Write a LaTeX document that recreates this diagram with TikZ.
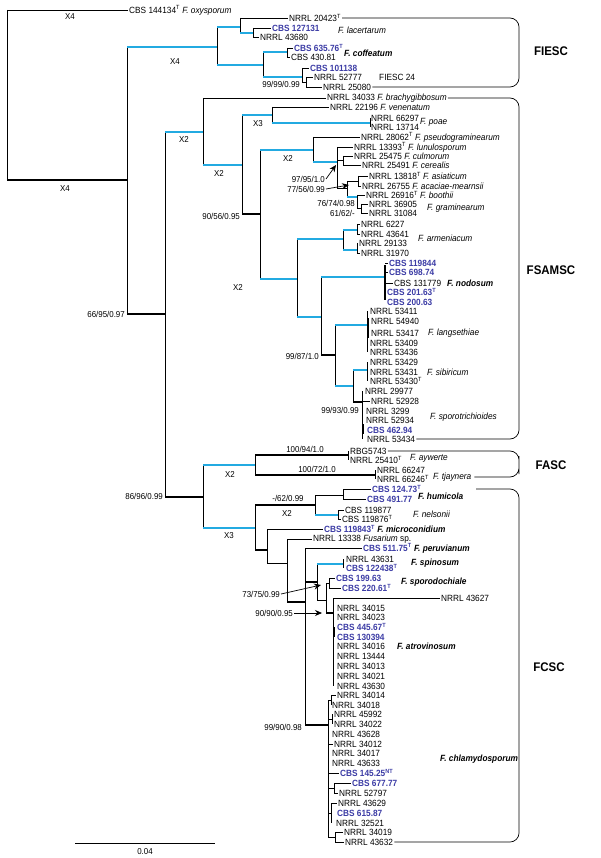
\documentclass[tikz,border=0pt]{standalone}
\usepackage{fontspec}
\setmainfont{Liberation Sans}[FakeStretch=0.92]
\usetikzlibrary{arrows.meta, calc}
\definecolor{branchblue}{RGB}{35,170,225}
\definecolor{cbsblue}{RGB}{60,60,165}
\newcommand{\tipfont}{\fontsize{9}{9.5}\selectfont}
\newcommand{\cb}[1]{\textcolor{cbsblue}{\bfseries #1}}

\begin{document}
\begin{tikzpicture}[x=1pt,y=-1pt,
  br/.style={line width=0.7pt},
  tk/.style={line width=1.7pt},
  bl/.style={line width=1.7pt, draw=branchblue},
  tip/.style={anchor=west, inner xsep=1pt, inner ysep=0pt, font=\tipfont},
  cbs/.style={tip, text=cbsblue, font=\tipfont\bfseries},
  sp/.style={anchor=west, inner sep=0pt, font=\tipfont\itshape},
  spb/.style={sp, font=\tipfont\bfseries\itshape},
  supp/.style={anchor=east, inner sep=1pt, font=\fontsize{8.6}{9}\selectfont},
  xl/.style={inner sep=0pt, font=\fontsize{8.6}{9}\selectfont},
  clade/.style={inner sep=0pt, font=\fontsize{12.5}{13}\selectfont\bfseries},
  arr/.style={br, -{Stealth[length=7pt,width=6pt]}},
  brk/.style={br, rounded corners=9pt}]
\useasboundingbox (0,0) rectangle (601,858);

% root and backbone
\node[tip] (oxy) at (128,10) {CBS 144134\textsuperscript{T} \textit{F. oxysporum}};
\draw[br] (7,10) -- (7,180);
\draw[br] (7,10) -- (oxy.west);
\node[xl] at (70,17) {X4};
\draw[tk] (7,180) -- (127,180);
\node[xl] at (65,189) {X4};
\draw[br] (127,47) -- (127,314);
\draw[bl] (127,47) -- (217,47);
\node[xl] at (175,62) {X4};
\draw[tk] (127,314) -- (165,314);
\node[supp] at (126,314) {66/95/0.97};
\draw[br] (165,132) -- (165,497);
\draw[bl] (165,132) -- (203,132);
\node[xl] at (184,140) {X2};
\draw[tk] (165,497) -- (203,497);
\node[supp] at (164,496) {86/96/0.99};

% FIESC
\node[tip] (n20423) at (288,18) {NRRL 20423\textsuperscript{T}};
\node[cbs] (c127131) at (271,28) {CBS 127131};
\node[tip] (n43680) at (259,37) {NRRL 43680};
\node[cbs] (c63576) at (293,48) {CBS 635.76\textsuperscript{T}};
\node[tip] (c43081) at (290,57) {CBS 430.81};
\node[cbs] (c101138) at (309,68) {CBS 101138};
\node[tip] (n52777) at (313,77) {NRRL 52777};
\node[tip] (n25080) at (322,87) {NRRL 25080};
\draw[br] (217,27) -- (217,65);
\draw[bl] (217,27) -- (240,27);
\draw[bl] (217,65) -- (263,65);
\draw[br] (240,18) -- (240,33);
\draw[br] (240,18) -- (n20423.west);
\draw[bl] (240,33) -- (253,33);
\draw[br] (253,28) -- (253,37);
\draw[br] (253,28) -- (c127131.west);
\draw[br] (253,37) -- (n43680.west);
\draw[br] (263,52) -- (263,77);
\draw[bl] (263,52) -- (287,52);
\draw[br] (287,48) -- (287,57);
\draw[br] (287,48) -- (c63576.west);
\draw[br] (287,57) -- (c43081.west);
\draw[bl] (263,77) -- (302,77);
\draw[br] (302,68) -- (302,82);
\draw[br] (302,68) -- (c101138.west);
\draw[br] (302,82) -- (306,82);
\draw[br] (306,77) -- (306,87);
\draw[br] (306,77) -- (n52777.west);
\draw[br] (306,87) -- (n25080.west);
\node[sp] at (338,30) {F. lacertarum};
\node[spb] at (344,53) {F. coffeatum};
\node[anchor=west, inner sep=0pt, font=\tipfont] at (379,77) {FIESC 24};
\node[supp] at (301,84) {99/99/0.99};
\draw[brk] (n20423.east) -| (519,50) |- (n25080.east);
\node[clade] at (551,51) {FIESC};

% FSAMSC
\node[tip] (n34033) at (326,98) {NRRL 34033 \textit{F. brachygibbosum}};
\node[tip] (n22196) at (329,107) {NRRL 22196 \textit{F. venenatum}};
\node[tip] (n66297) at (370,118) {NRRL 66297};
\node[tip] (n13714) at (370,127) {NRRL 13714};
\draw[br] (203,98) -- (203,165);
\draw[br] (203,98) -- (n34033.west);
\draw[bl] (203,165) -- (242,165);
\node[xl] at (219,173) {X2};
\draw[br] (242,115) -- (242,214);
\draw[bl] (242,115) -- (272,115);
\node[xl] at (258,124) {X3};
\draw[br] (272,107) -- (272,123);
\draw[br] (272,107) -- (n22196.west);
\draw[bl] (272,123) -- (370,123);
\draw[br] (370,118) -- (370,127);
\node[sp] at (420,122) {F. poae};
\draw[tk] (242,214) -- (260,214);
\node[supp] at (241,216) {90/56/0.95};

\node[tip] (n28062) at (360,137) {NRRL 28062\textsuperscript{T} \textit{F. pseudograminearum}};
\node[tip] (n13393) at (353,147) {NRRL 13393\textsuperscript{T} \textit{F. lunulosporum}};
\node[tip] (n25475) at (353,156) {NRRL 25475 \textit{F. culmorum}};
\node[tip] (n25491) at (361,165) {NRRL 25491 \textit{F. cerealis}};
\node[tip] (n13818) at (368,176) {NRRL 13818\textsuperscript{T} \textit{F. asiaticum}};
\node[tip] (n26755) at (361,186) {NRRL 26755 \textit{F. acaciae-mearnsii}};
\node[tip] (n26916) at (365,195) {NRRL 26916\textsuperscript{T} \textit{F. boothii}};
\node[tip] (n36905) at (368,204) {NRRL 36905};
\node[tip] (n31084) at (368,213) {NRRL 31084};
\draw[br] (260,150) -- (260,279);
\draw[bl] (260,150) -- (313,150);
\node[xl] at (288,158) {X2};
\draw[br] (313,137) -- (313,162);
\draw[br] (313,137) -- (n28062.west);
\draw[bl] (313,162) -- (337,162);
\draw[br] (337,147) -- (337,188);
\draw[br] (337,147) -- (n13393.west);
\draw[br] (337,160) -- (343,160);
\draw[br] (343,156) -- (343,165);
\draw[br] (343,156) -- (n25475.west);
\draw[br] (343,165) -- (n25491.west);
\draw[br] (337,188) -- (347,188);
\draw[br] (347,181) -- (347,197);
\draw[br] (347,181) -- (358,181);
\draw[br] (358,176) -- (358,186);
\draw[br] (358,176) -- (n13818.west);
\draw[br] (358,186) -- (n26755.west);
\draw[bl] (347,197) -- (357,197);
\draw[br] (357,195) -- (357,208);
\draw[br] (357,195) -- (n26916.west);
\draw[br] (357,208) -- (361,208);
\draw[br] (361,204) -- (361,213);
\draw[br] (361,204) -- (n36905.west);
\draw[br] (361,213) -- (n31084.west);
\node[sp] at (427,208) {F. graminearum};
\node[supp] (s97) at (326,179) {97/95/1.0};
\node[supp] (s77) at (326,189) {77/56/0.99};
\node[supp] at (356,203) {76/74/0.98};
\node[supp] at (356,213) {61/62/-};
\draw[arr] (s97.east) -- (336,165);
\draw[arr] (s77.east) -- (349,185);

\node[tip] (n6227) at (360,224) {NRRL 6227};
\node[tip] (n43641) at (360,234) {NRRL 43641};
\node[tip] (n29133) at (358,243) {NRRL 29133};
\node[tip] (n31970) at (360,253) {NRRL 31970};
\draw[bl] (260,279) -- (297,279);
\node[xl] at (238,287) {X2};
\draw[br] (297,239) -- (297,317);
\draw[bl] (297,239) -- (343,239);
\draw[br] (343,230) -- (343,250);
\draw[bl] (343,230) -- (357,230);
\draw[bl] (343,250) -- (357,250);
\draw[br] (357,224) -- (357,234);
\draw[br] (357,243) -- (357,253);
\draw[br] (357,224) -- (n6227.west);
\draw[br] (357,234) -- (n43641.west);
\draw[br] (357,253) -- (n31970.west);
\node[sp] at (418,238) {F. armeniacum};

\node[cbs] (c119844) at (388,263) {CBS 119844};
\node[cbs] (c69874) at (388,272) {CBS 698.74};
\node[tip] (c131779) at (393,283) {CBS 131779};
\node[cbs] (c20163) at (386,292) {CBS 201.63\textsuperscript{T}};
\node[cbs] (c20063) at (386,302) {CBS 200.63};
\draw[bl] (297,317) -- (321,317);
\draw[br] (321,277) -- (321,355);
\draw[bl] (321,277) -- (385,277);
\draw[tk] (385,265) -- (385,300);
\draw[br] (385,263) -- (c119844.west);
\draw[br] (385,272) -- (c69874.west);
\draw[br] (385,283) -- (c131779.west);
\node[spb] at (447,283) {F. nodosum};

\node[tip] (n53411) at (369,311) {NRRL 53411};
\node[tip] (n54940) at (370,321) {NRRL 54940};
\node[tip] (n53417) at (370,333) {NRRL 53417};
\node[tip] (n53409) at (369,343) {NRRL 53409};
\node[tip] (n53436) at (369,352) {NRRL 53436};
\draw[tk] (321,355) -- (335,355);
\node[supp] at (320,356) {99/87/1.0};
\draw[br] (335,325) -- (335,386);
\draw[bl] (335,325) -- (367,325);
\draw[br] (367,311) -- (367,352);
\draw[tk] (368,318) -- (368,338);
\node[sp] at (428,333) {F. langsethiae};

\node[tip] (n53429) at (369,362) {NRRL 53429};
\node[tip] (n53431) at (369,372) {NRRL 53431};
\node[tip] (n53430) at (369,381) {NRRL 53430\textsuperscript{T}};
\draw[bl] (335,386) -- (353,386);
\draw[br] (353,370) -- (353,402);
\draw[bl] (353,370) -- (367,370);
\draw[br] (367,362) -- (367,381);
\node[sp] at (427,372) {F. sibiricum};

\node[tip] (n29977) at (364,391) {NRRL 29977};
\node[tip] (n52928) at (370,401) {NRRL 52928};
\node[tip] (n3299) at (365,411) {NRRL 3299};
\node[tip] (n52934) at (365,420) {NRRL 52934};
\node[cbs] (c46294) at (366,430) {CBS 462.94};
\node[tip] (n53434) at (366,439) {NRRL 53434};
\draw[tk] (353,402) -- (362,402);
\node[supp] at (360,410) {99/93/0.99};
\draw[br] (362,391) -- (362,439);
\draw[br] (362,401) -- (n52928.west);
\draw[tk] (363,424) -- (363,434);
\node[sp] at (430,417) {F. sporotrichioides};
\draw[brk] (n34033.east) -| (519,270) |- (n53434.east);
\node[clade] at (551,270) {FSAMSC};

% FASC
\node[tip] (rbg) at (349,451) {RBG5743};
\node[tip] (n25410) at (349,460) {NRRL 25410\textsuperscript{T}};
\node[tip] (n66247) at (376,470) {NRRL 66247};
\node[tip] (n66246) at (376,479) {NRRL 66246\textsuperscript{T}};
\draw[br] (203,465) -- (203,528);
\draw[bl] (203,465) -- (255,465);
\node[xl] at (230,474) {X2};
\draw[bl] (203,528) -- (255,528);
\node[xl] at (229,536) {X3};
\draw[br] (255,455) -- (255,475);
\draw[tk] (255,455) -- (348,455);
\node[xl] at (305,449) {100/94/1.0};
\draw[br] (348,451) -- (348,460);
\draw[tk] (255,475) -- (375,475);
\node[xl] at (317,469) {100/72/1.0};
\draw[br] (375,470) -- (375,479);
\node[sp] (ayw) at (410,458) {F. aywerte};
\node[sp] (tjay) at (433,477) {F. tjaynera};
\draw[brk] (rbg.east) -| (519,465) |- ([xshift=3pt]tjay.east);
\node[clade] at (551,465) {FASC};

% FCSC
\node[cbs] (c12473) at (371,489) {CBS 124.73\textsuperscript{T}};
\node[cbs] (c49177) at (366,499) {CBS 491.77};
\node[tip] (c119877) at (344,510) {CBS 119877};
\node[tip] (c119876) at (341,519) {CBS 119876\textsuperscript{T}};
\draw[br] (255,505) -- (255,550);
\draw[tk] (255,505) -- (315,505);
\node[xl] at (288,498) {-/62/0.99};
\node[xl] at (287,513) {X2};
\draw[br] (315,495) -- (315,515);
\draw[br] (315,495) -- (343,495);
\draw[br] (343,489) -- (343,499);
\draw[br] (343,489) -- (c12473.west);
\draw[br] (343,499) -- (c49177.west);
\node[spb] at (418,496) {F. humicola};
\draw[bl] (315,515) -- (338,515);
\draw[br] (338,510) -- (338,519);
\draw[br] (338,510) -- (c119877.west);
\draw[br] (338,519) -- (c119876.west);
\node[sp] at (413,514) {F. nelsonii};

\node[tip] (c119843) at (323,529) {\cb{CBS 119843\textsuperscript{T}} \textbf{\textit{F. microconidium}}};
\node[tip] (n13338) at (312,539) {NRRL 13338 \textit{Fusarium} sp.};
\node[tip] (c51175) at (362,548) {\cb{CBS 511.75\textsuperscript{T}} \textbf{\textit{F. peruvianum}}};
\node[tip] (n43631) at (345,559) {NRRL 43631};
\node[cbs] (c122438) at (345,568) {CBS 122438\textsuperscript{T}};
\node[cbs] (c19963) at (335,578) {CBS 199.63};
\node[cbs] (c22061) at (341,588) {CBS 220.61\textsuperscript{T}};
\draw[tk] (255,550) -- (267,550);
\draw[br] (267,529) -- (267,563);
\draw[br] (267,529) -- (c119843.west);
\draw[br] (267,563) -- (287,563);
\draw[br] (287,539) -- (287,602);
\draw[br] (287,539) -- (n13338.west);
\draw[tk] (287,602) -- (305,602);
\draw[br] (305,548) -- (305,725);
\draw[br] (305,548) -- (c51175.west);
\draw[tk] (305,582) -- (317,582);
\draw[br] (317,564) -- (317,600);
\draw[bl] (317,564) -- (343,564);
\draw[br] (343,559) -- (343,568);
\node[spb] at (411,563) {F. spinosum};
\draw[br] (317,600) -- (326,600);
\draw[br] (326,583) -- (326,613);
\draw[br] (326,583) -- (329,583);
\draw[br] (329,578) -- (329,588);
\draw[br] (329,578) -- (c19963.west);
\draw[br] (329,588) -- (c22061.west);
\node[spb] at (401,582) {F. sporodochiale};
\node[supp] (s73) at (281,594) {73/75/0.99};
\node[supp] (s90) at (294,613) {90/90/0.95};
\draw[arr] (s73.east) -- (321,585);
\draw[arr] (s90.east) -- (322,613);

\node[tip] (n43627) at (440,598) {NRRL 43627};
\node[tip] (n34015) at (336,608) {NRRL 34015};
\node[tip] (n34023) at (336,617) {NRRL 34023};
\node[cbs] (c44567) at (336,627) {CBS 445.67\textsuperscript{T}};
\node[cbs] (c130394) at (336,637) {CBS 130394};
\node[tip] (n34016) at (336,646) {NRRL 34016};
\node[tip] (n13444) at (336,656) {NRRL 13444};
\node[tip] (n34013) at (336,666) {NRRL 34013};
\node[tip] (n34021) at (336,676) {NRRL 34021};
\node[tip] (n43630) at (336,686) {NRRL 43630};
\draw[tk] (326,613) -- (333,613);
\draw[br] (333,598) -- (333,686);
\draw[br] (333,598) -- (n43627.west);
\draw[tk] (334,627) -- (334,637);
\node[spb] at (397,646) {F. atrovinosum};

\node[tip] (n34014) at (336,695) {NRRL 34014};
\node[tip] (n34018) at (331,705) {NRRL 34018};
\node[tip] (n45992) at (333,714) {NRRL 45992};
\node[tip] (n34022) at (333,724) {NRRL 34022};
\node[tip] (n43628) at (331,734) {NRRL 43628};
\node[tip] (n34012) at (333,744) {NRRL 34012};
\node[tip] (n34017) at (331,753) {NRRL 34017};
\node[tip] (n43633) at (331,763) {NRRL 43633};
\node[cbs] (c14525) at (339,773) {CBS 145.25\textsuperscript{NT}};
\node[cbs] (c67777) at (351,783) {CBS 677.77};
\node[tip] (n52797) at (338,793) {NRRL 52797};
\node[tip] (n43629) at (337,803) {NRRL 43629};
\node[cbs] (c61587) at (336,813) {CBS 615.87};
\node[tip] (n32521) at (335,823) {NRRL 32521};
\node[tip] (n34019) at (343,832) {NRRL 34019};
\node[tip] (n43632) at (344,842) {NRRL 43632};
\draw[tk] (305,725) -- (328,725);
\node[supp] at (303,727) {99/90/0.98};
\draw[br] (328,700) -- (328,837);
\draw[br] (328,700) -- (331,700);
\draw[br] (331,695) -- (331,705);
\draw[br] (331,695) -- (n34014.west);
\draw[br] (328,719) -- (332,719);
\draw[br] (332,714) -- (332,724);
\draw[br] (328,744) -- (n34012.west);
\draw[br] (328,773) -- (c14525.west);
\draw[br] (328,788) -- (334,788);
\draw[br] (334,783) -- (334,793);
\draw[br] (334,783) -- (c67777.west);
\draw[br] (334,793) -- (n52797.west);
\draw[br] (328,813) -- (331,813);
\draw[br] (331,803) -- (331,823);
\draw[br] (331,803) -- (n43629.west);
\draw[br] (328,837) -- (335,837);
\draw[br] (335,832) -- (335,842);
\draw[br] (335,832) -- (n34019.west);
\draw[br] (335,842) -- (n43632.west);
\node[spb] at (440,759) {F. chlamydosporum};
\draw[brk] (476,489) -| (519,667) |- (n43632.east);
\node[clade] at (549,667) {FCSC};

% scale bar
\draw[br] (75,843) -- (215,843);
\node[xl] at (145,852) {0.04};
\end{tikzpicture}
\end{document}
